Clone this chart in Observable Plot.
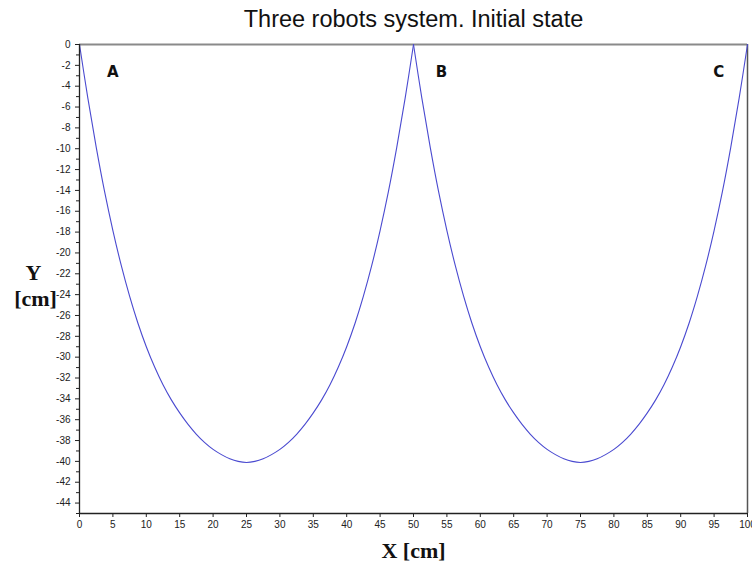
<!DOCTYPE html>
<html>
<head>
<meta charset="utf-8">
<script src="https://cdn.jsdelivr.net/npm/d3@7"></script>
<script src="https://cdn.jsdelivr.net/npm/@observablehq/plot@0.6"></script>
<style>
  html, body { margin: 0; padding: 0; background: #fff; }
  #chart svg { display: block; }
</style>
</head>
<body>
<div id="chart"></div>
<script>
// Arch A–B
const archAB_x = [0, 1.25, 2.5, 3.75, 5, 6.25, 7.5, 8.75, 10, 11.25, 12.5, 13.75, 15, 16.25, 17.5, 18.75, 20, 21.25, 22.5, 23.75, 25,
                  26.25, 27.5, 28.75, 30, 31.25, 32.5, 33.75, 35, 36.25, 37.5, 38.75, 40, 41.25, 42.5, 43.75, 45, 46.25, 47.5, 48.75, 50];
const archAB_y = [0, -5.15, -9.85, -14.1, -17.85, -21.2, -24.15, -26.75, -29.0, -30.95, -32.65, -34.1, -35.35, -36.45, -37.4, -38.2, -38.85, -39.35, -39.75, -40.0, -40.1,
                  -40.0, -39.75, -39.35, -38.85, -38.2, -37.4, -36.45, -35.35, -34.1, -32.65, -30.95, -29.0, -26.75, -24.15, -21.2, -17.85, -14.1, -9.85, -5.15, 0];
// Arch B–C
const archBC_x = [50, 51.25, 52.5, 53.75, 55, 56.25, 57.5, 58.75, 60, 61.25, 62.5, 63.75, 65, 66.25, 67.5, 68.75, 70, 71.25, 72.5, 73.75, 75,
                  76.25, 77.5, 78.75, 80, 81.25, 82.5, 83.75, 85, 86.25, 87.5, 88.75, 90, 91.25, 92.5, 93.75, 95, 96.25, 97.5, 98.75, 100];
const archBC_y = [0, -5.15, -9.85, -14.1, -17.85, -21.2, -24.15, -26.75, -29.0, -30.95, -32.65, -34.1, -35.35, -36.45, -37.4, -38.2, -38.85, -39.35, -39.75, -40.0, -40.1,
                  -40.0, -39.75, -39.35, -38.85, -38.2, -37.4, -36.45, -35.35, -34.1, -32.65, -30.95, -29.0, -26.75, -24.15, -21.2, -17.85, -14.1, -9.85, -5.15, 0];

const robotNames = ["A", "B", "C"];
const robotLabelX = [5, 54.2, 95.7];
const robotLabelY = [-2.7, -2.7, -2.7];

const xTicks = [0, 5, 10, 15, 20, 25, 30, 35, 40, 45, 50, 55, 60, 65, 70, 75, 80, 85, 90, 95, 100];
const yTicks = d3.range(0, -45, -2);
const yMinorTicks = d3.range(-1, -46, -2);

const titleText = "Three robots system. Initial state";

const curve = [
  ...archAB_x.map((x, i) => ({x, y: archAB_y[i], arch: "AB"})),
  ...archBC_x.map((x, i) => ({x, y: archBC_y[i], arch: "BC"}))
];
const labels = robotNames.map((n, i) => ({n, x: robotLabelX[i], y: robotLabelY[i]}));

const serif = "'Liberation Serif', 'Times New Roman', serif";

const chart = Plot.plot({
  width: 752,
  height: 565,
  marginLeft: 79,
  marginRight: 5,
  marginTop: 44,
  marginBottom: 52,
  x: {domain: [0, 100]},
  y: {domain: [-45, 0]},
  style: {fontFamily: "'Liberation Sans', Arial, sans-serif", background: "#fff"},
  marks: [
    Plot.ruleY([0], {stroke: "#8a8a8a", strokeWidth: 2}),
    Plot.ruleX([100], {stroke: "#555", strokeWidth: 1.5}),
    Plot.line(curve, {x: "x", y: "y", z: "arch", stroke: "#4a4ad0", strokeWidth: 1.1, curve: "catmull-rom"}),
    Plot.axisY({ticks: yTicks, tickSize: 4, tickPadding: 5, tickFormat: d => String(d), fontSize: 10, color: "#222", label: null}),
    Plot.axisY({ticks: yMinorTicks, tickSize: 3, tickFormat: () => "", label: null, color: "#222"}),
    Plot.axisX({ticks: xTicks, tickSize: 4, tickPadding: 3, tickFormat: d => String(d), fontSize: 10, color: "#222", label: null}),
    Plot.ruleX([0], {stroke: "#222", strokeWidth: 1.3}),
    Plot.ruleY([-45], {stroke: "#222", strokeWidth: 1.3}),
    Plot.text(labels, {x: "x", y: "y", text: "n", fontSize: 15, fontWeight: "bold", fill: "#111", fontFamily: "'DejaVu Sans', sans-serif"}),
    Plot.text([titleText], {frameAnchor: "top", lineAnchor: "middle", dy: -25, fontSize: 23.5, fill: "#111", fontFamily: "'Liberation Sans', Arial, sans-serif"}),
    Plot.text(["X [cm]"], {frameAnchor: "bottom", lineAnchor: "middle", dy: 37, fontSize: 22, fontWeight: "bold", fill: "#111", fontFamily: serif}),
    Plot.text(["Y"], {frameAnchor: "left", textAnchor: "middle", lineAnchor: "middle", dx: -46, dy: -6, fontSize: 22, fontWeight: "bold", fill: "#111", fontFamily: serif}),
    Plot.text(["[cm]"], {frameAnchor: "left", textAnchor: "middle", lineAnchor: "middle", dx: -44, dy: 20, fontSize: 22, fontWeight: "bold", fill: "#111", fontFamily: serif})
  ]
});
document.getElementById("chart").appendChild(chart);
</script>
</body>
</html>
